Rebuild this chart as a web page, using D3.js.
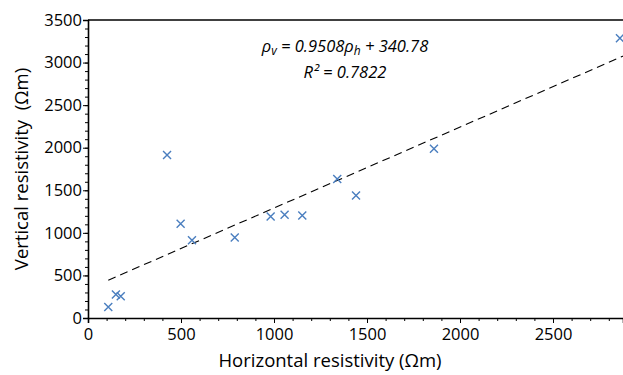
<!DOCTYPE html>
<html>
<head>
<meta charset="utf-8">
<script src="https://cdn.jsdelivr.net/npm/d3@7"></script>
<style>
  body { margin: 0; background: #fff; }
  text { font-family: "Open Sans", sans-serif; fill: #000; }
</style>
</head>
<body>
<svg id="chart" width="623" height="375"></svg>
<script>
// horizontal / vertical resistivity (Ωm)
const horizontal = [109, 150, 176, 425, 498, 559, 789, 982, 1057, 1152, 1340, 1441, 1860, 2860];
const vertical   = [130, 275, 255, 1914, 1106, 914, 946, 1193, 1212, 1205, 1632, 1440, 1988, 3287];
const xTicks = [0, 500, 1000, 1500, 2000, 2500];
const yTicks = [0, 500, 1000, 1500, 2000, 2500, 3000, 3500];
const slope = 0.9508, intercept = 340.78;
const fitRange = [109, 2900];

const svg = d3.select("#chart");
const margin = {top: 20, right: 0, bottom: 57, left: 88};
const width = +svg.attr("width") - margin.left - margin.right;
const height = +svg.attr("height") - margin.top - margin.bottom;

const x = d3.scaleLinear().domain([0, width / 0.186]).range([0, width]);
const y = d3.scaleLinear().domain([0, 3500]).range([height, 0]);

const g = svg.append("g")
    .attr("transform", "translate(" + margin.left + "," + margin.top + ")");

// minor ticks every 100
g.append("g")
    .attr("transform", "translate(0," + height + ")")
    .call(d3.axisBottom(x).tickValues(d3.range(0, 2900, 100)).tickSize(3).tickFormat(""))
    .call(a => a.select(".domain").remove());
g.append("g")
    .call(d3.axisLeft(y).tickValues(d3.range(0, 3501, 100)).tickSize(3).tickFormat(""))
    .call(a => a.select(".domain").remove());

const xAxis = g.append("g")
    .attr("class", "axis axis--x")
    .attr("transform", "translate(0," + height + ")")
    .call(d3.axisBottom(x).tickValues(xTicks).tickSize(5).tickPadding(5).tickFormat(d3.format("d")));
const yAxis = g.append("g")
    .attr("class", "axis axis--y")
    .call(d3.axisLeft(y).tickValues(yTicks).tickSize(5).tickPadding(1).tickFormat(d3.format("d")));

[xAxis, yAxis].forEach(a => {
  a.selectAll("text").style("font-size", "16.5px").style("font-family", "Open Sans");
  a.select(".domain").attr("stroke-width", 1.6);
});
g.selectAll(".tick line").attr("stroke", "#000").attr("stroke-width", 1);

// top border
g.append("line")
    .attr("x1", 0).attr("x2", width)
    .attr("y1", 0).attr("y2", 0)
    .attr("stroke", "#000").attr("stroke-width", 1.6);

// fitted line
g.append("line")
    .attr("x1", x(fitRange[0])).attr("y1", y(slope * fitRange[0] + intercept))
    .attr("x2", x(fitRange[1])).attr("y2", y(slope * fitRange[1] + intercept))
    .attr("stroke", "#000").attr("stroke-width", 1.1)
    .attr("stroke-dasharray", "8,5");

// markers
const s = 4;
g.selectAll(".pt")
  .data(horizontal.map((h, i) => [h, vertical[i]]))
  .enter().append("path")
    .attr("class", "pt")
    .attr("d", d => {
      const cx = x(d[0]), cy = y(d[1]);
      return "M" + (cx - s) + "," + (cy - s) + "L" + (cx + s) + "," + (cy + s) +
             "M" + (cx - s) + "," + (cy + s) + "L" + (cx + s) + "," + (cy - s);
    })
    .attr("stroke", "#4a7ebf").attr("stroke-width", 1.4).attr("fill", "none");

// equation
const eq = svg.append("text")
    .attr("x", 345).attr("y", 52)
    .attr("text-anchor", "middle")
    .style("font-size", "16.5px").style("font-style", "italic");
eq.append("tspan").text("ρ");
eq.append("tspan").attr("dy", 3).style("font-size", "12px").text("v");
eq.append("tspan").attr("dy", -3).text(" = 0.9508ρ");
eq.append("tspan").attr("dy", 3).style("font-size", "12px").text("h");
eq.append("tspan").attr("dy", -3).text(" + 340.78");

svg.append("text")
    .attr("x", 345).attr("y", 78)
    .attr("text-anchor", "middle")
    .style("font-size", "16.5px").style("font-style", "italic")
    .text("R² = 0.7822");

// axis titles
svg.append("text")
    .attr("x", 330).attr("y", 367)
    .attr("text-anchor", "middle")
    .style("font-size", "18.5px")
    .text("Horizontal resistivity (Ωm)");

svg.append("text")
    .attr("transform", "translate(28," + (margin.top + height / 2) + ") rotate(-90)")
    .attr("text-anchor", "middle")
    .style("font-size", "18.5px")
    .style("white-space", "pre")
    .text("Vertical resistivity  (Ωm)");
</script>
</body>
</html>
